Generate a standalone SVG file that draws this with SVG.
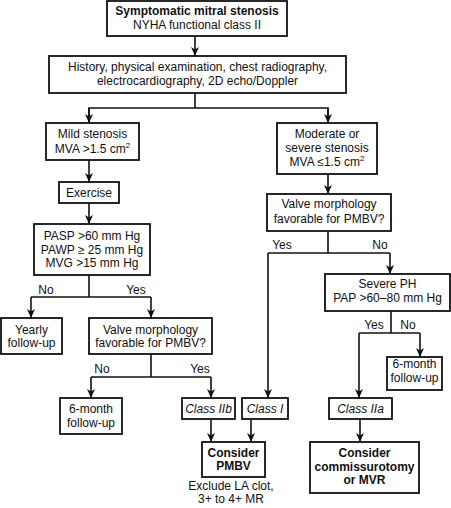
<svg xmlns="http://www.w3.org/2000/svg" width="451" height="508" viewBox="0 0 451 508">
<defs>
<marker id="ah" markerUnits="userSpaceOnUse" markerWidth="10" markerHeight="10" refX="9" refY="4" orient="auto">
<path d="M0,0 L9,4 L0,8 L2.5,4 Z" fill="#111"/>
</marker>
<style>
rect{fill:#fff;stroke:#111;stroke-width:1.8}
text{font-family:"Liberation Sans",Arial,sans-serif;font-size:12px;fill:#111;text-anchor:middle}
.b{font-weight:bold}
.i{font-style:italic}
.c line,.c path{stroke:#111;stroke-width:1.6;fill:none}
.a{marker-end:url(#ah)}
</style>
</defs>
<rect x="0" y="0" width="451" height="508" style="fill:#fff;stroke:none"/>
<g class="c" id="connectors">
<line class="a" x1="195" y1="36" x2="195" y2="56"/>
<line x1="195" y1="93" x2="195" y2="108"/>
<path d="M89,123 V108 H328 V123" style="marker-end:none"/>
<line class="a" x1="89" y1="108" x2="89" y2="123"/>
<line class="a" x1="328" y1="108" x2="328" y2="123"/>
<line class="a" x1="89" y1="160" x2="89" y2="182"/>
<line class="a" x1="89" y1="203" x2="89" y2="224"/>
<line x1="89" y1="275" x2="89" y2="297"/>
<line x1="31" y1="297" x2="151" y2="297"/>
<line class="a" x1="31" y1="297" x2="31" y2="318"/>
<line class="a" x1="151" y1="297" x2="151" y2="318"/>
<line x1="151" y1="354" x2="151" y2="377"/>
<line x1="91" y1="377" x2="211" y2="377"/>
<line class="a" x1="91" y1="377" x2="91" y2="398"/>
<line class="a" x1="211" y1="377" x2="211" y2="398"/>
<line class="a" x1="211" y1="420" x2="211" y2="442"/>
<line class="a" x1="251" y1="420" x2="251" y2="442"/>
<line class="a" x1="328" y1="174" x2="328" y2="194"/>
<line x1="328" y1="231" x2="328" y2="253"/>
<line x1="268" y1="253" x2="390" y2="253"/>
<line class="a" x1="268" y1="253" x2="268" y2="398"/>
<line class="a" x1="390" y1="253" x2="390" y2="274"/>
<line x1="391" y1="311" x2="391" y2="333"/>
<line x1="359" y1="333" x2="420" y2="333"/>
<line class="a" x1="420" y1="333" x2="420" y2="357"/>
<line class="a" x1="359" y1="333" x2="359" y2="398"/>
<line class="a" x1="360" y1="420" x2="360" y2="442"/>
<text x="46" y="294">No</text>
<text x="136" y="294">Yes</text>
<text x="102" y="373">No</text>
<text x="200" y="373">Yes</text>
<text x="282" y="249">Yes</text>
<text x="380" y="249">No</text>
<text x="374" y="329">Yes</text>
<text x="408" y="329">No</text>
</g>
<g id="n1"><rect x="107" y="1" width="180" height="35"/><text x="197" y="15" class="b">Symptomatic mitral stenosis</text><text x="197" y="29">NYHA functional class II</text></g>
<g id="n2"><rect x="49" y="56" width="297" height="37"/><text x="197.5" y="71">History, physical examination, chest radiography,</text><text x="197.5" y="85">electrocardiography, 2D echo/Doppler</text></g>
<g id="n3"><rect x="46" y="123" width="93" height="37"/><text x="92.5" y="138">Mild stenosis</text><text x="92.5" y="153">MVA &gt;1.5 cm<tspan font-size="8" dy="-5">2</tspan></text></g>
<g id="n4"><rect x="277" y="123" width="100" height="51"/><text x="327" y="138">Moderate or</text><text x="327" y="152">severe stenosis</text><text x="327" y="166">MVA ≤1.5 cm<tspan font-size="8" dy="-5">2</tspan></text></g>
<g id="n5"><rect x="59" y="182" width="60" height="21"/><text x="89" y="196.5">Exercise</text></g>
<g id="n6"><rect x="34" y="224" width="116" height="51"/><text x="92" y="240">PASP &gt;60 mm Hg</text><text x="92" y="254">PAWP ≥ 25 mm Hg</text><text x="92" y="267">MVG &gt;15 mm Hg</text></g>
<g id="n7"><rect x="1" y="318" width="61" height="36"/><text x="31.5" y="334">Yearly</text><text x="31.5" y="347">follow-up</text></g>
<g id="n8"><rect x="89" y="318" width="123" height="36"/><text x="150.5" y="334">Valve morphology</text><text x="150.5" y="347">favorable for PMBV?</text></g>
<g id="n9"><rect x="60" y="398" width="62" height="36"/><text x="91" y="413">6-month</text><text x="91" y="427">follow-up</text></g>
<g id="n10"><rect x="182" y="398" width="53" height="21"/><text x="208.5" y="413" class="i">Class IIb</text></g>
<g id="n11"><rect x="242" y="398" width="46" height="21"/><text x="265" y="413" class="i">Class I</text></g>
<g id="n12"><rect x="202" y="442" width="63" height="35"/><text x="233.5" y="457" class="b">Consider</text><text x="233.5" y="470" class="b">PMBV</text><text x="231" y="490">Exclude LA clot,</text><text x="231" y="503">3+ to 4+ MR</text></g>
<g id="n13"><rect x="267" y="194" width="124" height="37"/><text x="329" y="208">Valve morphology</text><text x="329" y="223">favorable for PMBV?</text></g>
<g id="n14"><rect x="325" y="274" width="125" height="37"/><text x="387.5" y="288">Severe PH</text><text x="387.5" y="302">PAP &gt;60–80 mm Hg</text></g>
<g id="n15"><rect x="387" y="357" width="55" height="33"/><text x="414.5" y="368">6-month</text><text x="414.5" y="382">follow-up</text></g>
<g id="n16"><rect x="329" y="398" width="63" height="21"/><text x="360.5" y="413" class="i">Class IIa</text></g>
<g id="n17"><rect x="310" y="442" width="109" height="51"/><text x="364.5" y="457" class="b">Consider</text><text x="364.5" y="471" class="b">commissurotomy</text><text x="364.5" y="484" class="b">or MVR</text></g>
</svg>
